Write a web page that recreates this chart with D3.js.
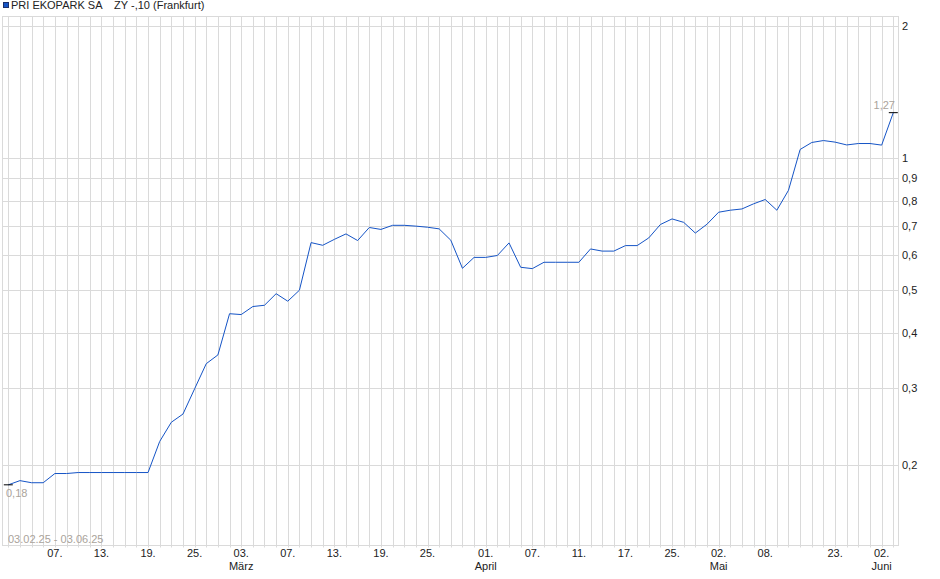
<!DOCTYPE html>
<html>
<head>
<meta charset="utf-8">
<script src="https://cdnjs.cloudflare.com/ajax/libs/d3/7.8.5/d3.min.js"></script>
<style>
  body { margin: 0; background: #fff; }
  text { font-family: "Liberation Sans", Arial, sans-serif; }
</style>
</head>
<body>
<div id="chart"></div>
<script>
var dates = [
  "2025-02-03","2025-02-04","2025-02-05","2025-02-06","2025-02-07","2025-02-10","2025-02-11","2025-02-12","2025-02-13","2025-02-14",
  "2025-02-17","2025-02-18","2025-02-19","2025-02-20","2025-02-21","2025-02-24","2025-02-25","2025-02-26","2025-02-27","2025-02-28",
  "2025-03-03","2025-03-04","2025-03-05","2025-03-06","2025-03-07","2025-03-10","2025-03-11","2025-03-12","2025-03-13","2025-03-14",
  "2025-03-17","2025-03-18","2025-03-19","2025-03-20","2025-03-21","2025-03-24","2025-03-25","2025-03-26","2025-03-27","2025-03-28",
  "2025-03-31","2025-04-01","2025-04-02","2025-04-03","2025-04-04","2025-04-07","2025-04-08","2025-04-09","2025-04-10","2025-04-11",
  "2025-04-14","2025-04-15","2025-04-16","2025-04-17","2025-04-22","2025-04-23","2025-04-24","2025-04-25","2025-04-28","2025-04-29",
  "2025-04-30","2025-05-02","2025-05-05","2025-05-06","2025-05-07","2025-05-08","2025-05-09","2025-05-12","2025-05-14","2025-05-16",
  "2025-05-20","2025-05-23","2025-05-26","2025-05-28","2025-05-30","2025-06-02","2025-06-03"
];

var prices = [
  0.180, 0.184, 0.182, 0.182, 0.191, 0.191, 0.192, 0.192, 0.192, 0.192,
  0.192, 0.192, 0.192, 0.226, 0.250, 0.261, 0.298, 0.340, 0.356, 0.442,
  0.440, 0.459, 0.462, 0.491, 0.472, 0.500, 0.642, 0.633, 0.653, 0.672,
  0.649, 0.695, 0.688, 0.703, 0.703, 0.700, 0.696, 0.690, 0.650, 0.561,
  0.594, 0.594, 0.600, 0.641, 0.564, 0.560, 0.579, 0.579, 0.579, 0.579,
  0.621, 0.614, 0.614, 0.632, 0.632, 0.658, 0.706, 0.727, 0.714, 0.675,
  0.707, 0.753, 0.761, 0.766, 0.787, 0.805, 0.761, 0.845, 1.047, 1.086,
  1.097, 1.088, 1.072, 1.080, 1.080, 1.071, 1.270
];

var yTicks = [0.2, 0.3, 0.4, 0.5, 0.6, 0.7, 0.8, 0.9, 1, 2];
var xTickDates = ["2025-02-07","2025-02-13","2025-02-19","2025-02-25","2025-03-03","2025-03-07","2025-03-13",
  "2025-03-19","2025-03-25","2025-04-01","2025-04-07","2025-04-11","2025-04-17","2025-04-25","2025-05-02",
  "2025-05-08","2025-05-23","2025-06-02"];
var monthLabels = { "2025-03-03": "März", "2025-04-01": "April", "2025-05-02": "Mai", "2025-06-02": "Juni" };

var seriesName = "PRI EKOPARK SA    ZY -,10 (Frankfurt)";
var rangeLabel = "03.02.25 - 03.06.25";

var width = 940, height = 579;
var plot = { left: 2.5, right: 898.5, top: 16.5, bottom: 545.5 };

var svg = d3.select("#chart").append("svg")
  .attr("width", width)
  .attr("height", height);

var x = d3.scalePoint()
  .domain(dates)
  .range([8.3, 893.3]);

var y = d3.scaleLog()
  .domain([0.1309, 2.104])
  .range([plot.bottom, plot.top]);

var gridColor = "#dadada";
var grid = svg.append("g").attr("class", "grid");

// vertical lines, one per trading day
grid.selectAll("line.v")
  .data(dates)
  .enter()
  .append("line")
  .attr("class", "v")
  .attr("x1", function(d) { return Math.round(x(d)) + 0.5; })
  .attr("x2", function(d) { return Math.round(x(d)) + 0.5; })
  .attr("y1", plot.top)
  .attr("y2", plot.bottom + 2)
  .attr("stroke", gridColor)
  .attr("stroke-width", 1);

grid.selectAll("line.h")
  .data(yTicks)
  .enter()
  .append("line")
  .attr("class", "h")
  .attr("x1", plot.left)
  .attr("x2", plot.right)
  .attr("y1", function(d) { return Math.round(y(d)) + 0.5; })
  .attr("y2", function(d) { return Math.round(y(d)) + 0.5; })
  .attr("stroke", gridColor)
  .attr("stroke-width", 1);

svg.append("rect")
  .attr("x", plot.left)
  .attr("y", plot.top)
  .attr("width", plot.right - plot.left)
  .attr("height", plot.bottom - plot.top)
  .attr("fill", "none")
  .attr("stroke", gridColor)
  .attr("stroke-width", 1);

// right axis labels
svg.append("g")
  .selectAll("text")
  .data(yTicks)
  .enter()
  .append("text")
  .attr("x", 902)
  .attr("y", function(d) { return y(d) + 4; })
  .attr("font-size", "11px")
  .attr("fill", "#222")
  .text(function(d) { return String(d).replace(".", ","); });

// bottom axis labels
var xlab = svg.append("g")
  .selectAll("text")
  .data(xTickDates)
  .enter()
  .append("text")
  .attr("text-anchor", "middle")
  .attr("font-size", "11px")
  .attr("fill", "#222");

xlab.append("tspan")
  .attr("x", function(d) { return x(d); })
  .attr("y", 557)
  .text(function(d) { return d.slice(8, 10) + "."; });

xlab.append("tspan")
  .attr("x", function(d) { return x(d); })
  .attr("y", 570)
  .text(function(d) { return monthLabels[d] || ""; });

// price line
var line = d3.line()
  .x(function(d, i) { return x(dates[i]); })
  .y(function(d) { return y(d); });

svg.append("path")
  .datum(prices)
  .attr("d", line)
  .attr("fill", "none")
  .attr("stroke", "#1554c6")
  .attr("stroke-width", 1);

// first / last markers
var first = prices[0], last = prices[prices.length - 1];
var ends = [
  { date: dates[0], value: first },
  { date: dates[dates.length - 1], value: last }
];
svg.selectAll("line.mark")
  .data(ends)
  .enter()
  .append("line")
  .attr("class", "mark")
  .attr("x1", function(d) { return x(d.date) - 4.5; })
  .attr("x2", function(d) { return x(d.date) + 4.5; })
  .attr("y1", function(d) { return y(d.value); })
  .attr("y2", function(d) { return y(d.value); })
  .attr("stroke", "#000")
  .attr("stroke-width", 1);

var labelColor = "#aaa39b";
svg.append("text")
  .attr("x", 6)
  .attr("y", y(first) + 12)
  .attr("font-size", "11px")
  .attr("fill", labelColor)
  .text(d3.format(".2f")(first).replace(".", ","));

svg.append("text")
  .attr("x", 895)
  .attr("y", y(last) - 4)
  .attr("text-anchor", "end")
  .attr("font-size", "11px")
  .attr("fill", labelColor)
  .text(d3.format(".2f")(last).replace(".", ","));

svg.append("text")
  .attr("x", 8)
  .attr("y", 542.5)
  .attr("font-size", "11px")
  .attr("fill", labelColor)
  .text(rangeLabel);

// legend
svg.append("rect")
  .attr("x", 3.5)
  .attr("y", 2.5)
  .attr("width", 5)
  .attr("height", 5)
  .attr("fill", "#1554c6")
  .attr("stroke", "#1a2f6a")
  .attr("stroke-width", 1);

svg.append("text")
  .attr("x", 11)
  .attr("y", 9)
  .attr("font-size", "11px")
  .attr("fill", "#222")
  .style("white-space", "pre")
  .text(seriesName);
</script>
</body>
</html>
